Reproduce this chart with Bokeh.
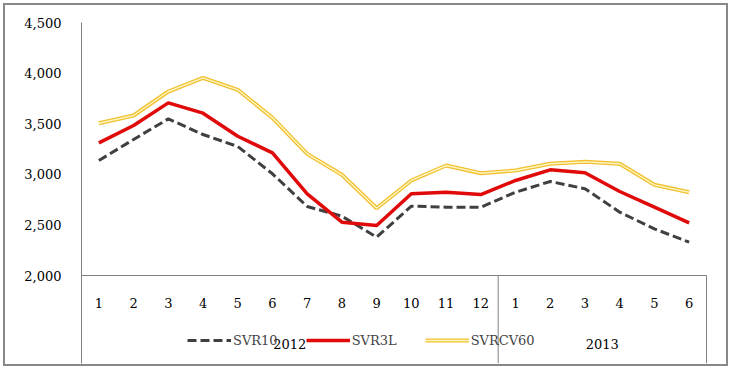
from bokeh.plotting import figure
from bokeh.models import (Range1d, FixedTicker, Legend, LegendItem,
                          ColumnDataSource, NumeralTickFormatter)
from bokeh.core.properties import value
from bokeh.embed import file_html
from bokeh.resources import INLINE

# ---- data ----
months = ["1", "2", "3", "4", "5", "6", "7", "8", "9", "10", "11", "12",
          "1", "2", "3", "4", "5", "6"]
years = ["2012", "2013"]
year_counts = [12, 6]
svr10 = [3136, 3344, 3548, 3393, 3275, 3005, 2682, 2586, 2379, 2685, 2675, 2675,
         2823, 2929, 2857, 2626, 2461, 2329]
svr3l = [3311, 3482, 3706, 3604, 3376, 3212, 2807, 2527, 2494, 2807, 2823, 2800,
         2939, 3044, 3015, 2830, 2675, 2520]
svrcv60 = [3505, 3581, 3818, 3953, 3835, 3558, 3202, 2995, 2665, 2939, 3087, 3011,
           3038, 3104, 3123, 3104, 2896, 2823]
y_ticks = [2000, 2500, 3000, 3500, 4000, 4500]

FONT = "DejaVu Serif"
FS = "13px"
GRAY = "#808080"

# ---- layout geometry (pixels) ----
PLOT_H = 253          # height of the value area (2000..4500)
BELOW_H = 88          # category band below the value area
FRAME_W = 627
px = (y_ticks[-1] - y_ticks[0]) / PLOT_H   # data units per pixel
y_bottom = y_ticks[0] - BELOW_H * px

n = len(months)
xs = list(range(1, n + 1))
src = ColumnDataSource(dict(x=xs, svr10=svr10, svr3l=svr3l, svrcv60=svrcv60,
                            month=months))

bounds = [0.5]
acc = 0
for c in year_counts:
    acc += c
    bounds.append(acc + 0.5)
year_pos = [(bounds[i] + bounds[i + 1]) / 2 for i in range(len(years))]
ysrc = ColumnDataSource(dict(x=year_pos, year=years))

x_end = n + 0.5 + 2 * n / 625.0

p = figure(frame_width=FRAME_W, frame_height=PLOT_H + BELOW_H,
           x_range=Range1d(0.5, x_end), y_range=Range1d(y_bottom, y_ticks[-1]),
           output_backend="svg", toolbar_location=None,
           x_axis_location=None, y_axis_location="left",
           min_border_left=76, min_border_right=18, min_border_top=17,
           min_border_bottom=1)
p.styles = {"margin-left": "3px", "margin-top": "3px",
            "border": "2px solid #888888"}
p.outline_line_color = None
p.grid.grid_line_color = None
p.background_fill_color = "white"
p.border_fill_color = "white"

# y axis
ya = p.yaxis[0]
ya.ticker = FixedTicker(ticks=y_ticks)
ya.formatter = NumeralTickFormatter(format="0,0")
ya.major_tick_in = 0
ya.major_tick_out = 0
ya.minor_tick_line_color = None
ya.axis_line_color = GRAY
ya.major_label_standoff = 20
ya.major_label_text_font = FONT
ya.major_label_text_font_size = FS
ya.major_label_text_color = "black"

# category band: base line, separators, month and year labels
p.segment(x0=[bounds[0]], y0=[y_ticks[0]], x1=[bounds[-1]], y1=[y_ticks[0]],
          line_color=GRAY, line_width=1)
p.segment(x0=bounds[1:], y0=[y_ticks[0]] * (len(bounds) - 1),
          x1=bounds[1:], y1=[y_bottom] * (len(bounds) - 1),
          line_color=GRAY, line_width=1)
p.text(x="x", y=y_ticks[0] - 27 * px, text="month", source=src,
       text_align="center", text_baseline="middle",
       text_font=value(FONT), text_font_size=FS, text_color="black")
p.text(x="x", y=y_ticks[0] - 68.5 * px, text="year", source=ysrc,
       text_align="center", text_baseline="middle",
       text_font=value(FONT), text_font_size=FS, text_color="black")

# series
r1 = p.line("x", "svr10", source=src, line_color="#404040", line_width=3,
            line_dash="9 4")
r2 = p.line("x", "svr3l", source=src, line_color="#E00A0A", line_width=3.5)
r3o = p.line("x", "svrcv60", source=src, line_color="#F0C030", line_width=4)
r3i = p.line("x", "svrcv60", source=src, line_color="#FFF6C4", line_width=1.4)

legend = Legend(items=[LegendItem(label="SVR10", renderers=[r1]),
                       LegendItem(label="SVR3L", renderers=[r2]),
                       LegendItem(label="SVRCV60", renderers=[r3o, r3i])],
                location=(106, 13), orientation="horizontal",
                glyph_width=44, glyph_height=20, label_standoff=2, spacing=28,
                padding=0, margin=0, border_line_color=None,
                background_fill_alpha=0,
                label_text_font=FONT, label_text_font_size=FS)
p.add_layout(legend)

open("out.html", "w").write(file_html(p, INLINE))
